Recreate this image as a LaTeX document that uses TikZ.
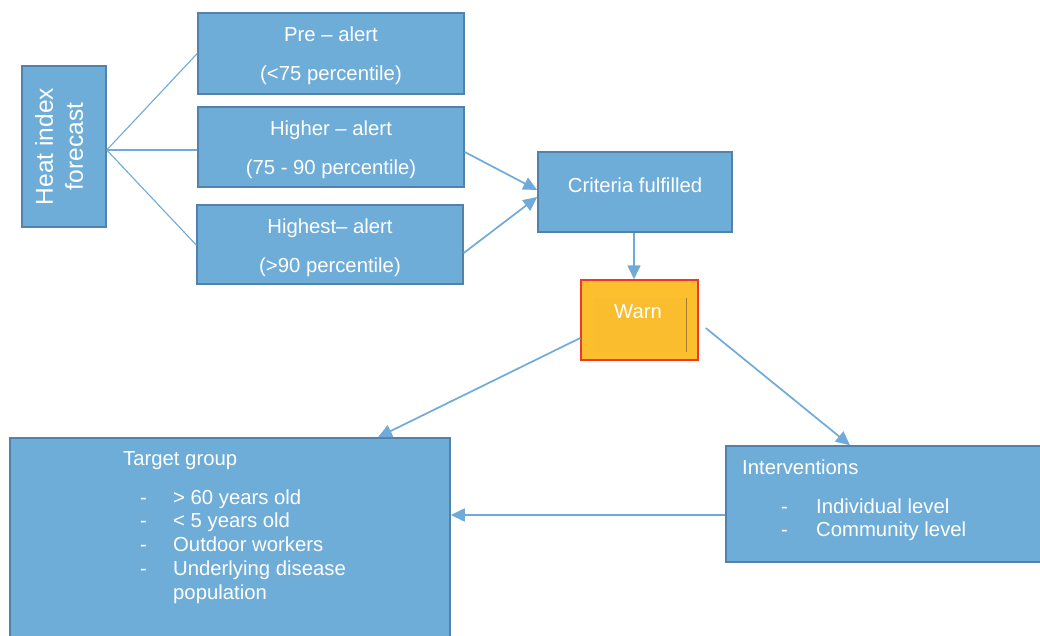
\documentclass[tikz,border=0pt]{standalone}
\usepackage{fontspec}
\setmainfont{Liberation Sans}
\usetikzlibrary{arrows.meta}
\definecolor{boxfill}{RGB}{111,173,217}
\definecolor{boxdraw}{RGB}{82,130,172}
\definecolor{linecol}{RGB}{112,170,218}
\definecolor{warnfill}{RGB}{252,191,45}
\definecolor{warninner}{RGB}{250,189,46}
\definecolor{warnline}{RGB}{165,125,45}
\definecolor{warnred}{RGB}{240,55,40}
\begin{document}
\begin{tikzpicture}[x=1pt,y=-1pt,
  box/.style={draw=boxdraw, line width=1.5pt, fill=boxfill, inner sep=0pt, rectangle},
  txt/.style={text=white, font=\fontsize{20.3}{23.75}\selectfont, inner sep=0pt},
  conn/.style={draw=linecol, line width=1.1pt},
  arr/.style={draw=linecol, line width=1.7pt, -{Triangle[length=14pt,width=13pt]}}]
\useasboundingbox (0,0) rectangle (1040,635);
% boxes
\node[box, minimum width=84pt, minimum height=161pt] (heat) at (64,146.5) {};
\node[txt, rotate=90, align=center, font=\fontsize{24.5}{30}\selectfont] (heatt) at (59,146.5) {Heat index\\forecast};
\node[box, minimum width=266pt, minimum height=81pt, txt, align=center, text depth=0pt] (pre) at (331,53.5) {};
\node[txt, align=center] (pret) at (331,56) {Pre – alert\\[15pt](<75 percentile)};
\node[box, minimum width=266pt, minimum height=80pt] (higher) at (331,147) {};
\node[txt, align=center] (highert) at (331,150) {Higher – alert\\[15pt](75 - 90 percentile)};
\node[box, minimum width=266pt, minimum height=79pt] (highest) at (330,244.5) {};
\node[txt, align=center] (highestt) at (330,247.5) {Highest– alert\\[15pt](>90 percentile)};
\node[box, minimum width=194pt, minimum height=80pt] (crit) at (635,192) {};
\node[txt] (critt) at (635,185) {Criteria fulfilled};
\node[draw=warnred, line width=1.5pt, fill=warnfill, minimum width=117pt, minimum height=80pt, inner sep=0pt] (warn) at (639.5,320) {};
\node[fill=warninner, minimum width=93pt, minimum height=54pt, inner sep=0pt] (warnin) at (639.5,325) {};
\draw[warnline, line width=1pt] (warnin.north east) -- (warnin.south east);
\node[txt] (warnt) at (638,312) {Warn};
\node[box, minimum width=440pt, minimum height=214pt] (target) at (230,545) {};
\node[txt, anchor=base west] (targett) at (123,465) {Target group};
\node[txt, anchor=base west] (targetl) at (140,504) {\begin{tabular}[t]{@{}p{33pt}@{}l@{}}
- & > 60 years old\\
- & < 5 years old\\
- & Outdoor workers\\
- & Underlying disease\\
  & population
\end{tabular}};
\node[box, minimum width=318pt, minimum height=116pt] (interv) at (885,504) {};
\node[txt, anchor=base west] (intervt) at (742,474) {Interventions};
\node[txt, anchor=base west] (intervl) at (781,513) {\begin{tabular}[t]{@{}p{35pt}@{}l@{}}
- & Individual level\\
- & Community level
\end{tabular}};
% connectors
\draw[conn] ([yshift=-3.5pt]heat.east) -- (pre.west);
\draw[conn] ([yshift=-3.5pt]heat.east) -- ([yshift=-3pt]higher.west);
\draw[conn] ([yshift=-3.5pt]heat.east) -- ([yshift=-0.5pt]highest.west);
\draw[arr] ([yshift=-5pt]higher.east) -- ([yshift=2pt]crit.west);
\draw[arr] ([yshift=-8.5pt]highest.east) -- ([yshift=-5pt]crit.west);
\draw[arr] ([xshift=-1pt]crit.south) -- ([xshift=-5.5pt]warn.north);
\draw[arr] ([yshift=-18pt]warn.west) -- ([xshift=148pt]target.north);
\coordinate (wstart) at ([xshift=7pt,yshift=-8pt]warn.east);
\draw[arr] (wstart) -- ([xshift=-35pt]interv.north);
\draw[arr] ([yshift=-11pt]interv.west) -- ([yshift=-11pt]interv.west -| target.east);
\end{tikzpicture}
\end{document}
